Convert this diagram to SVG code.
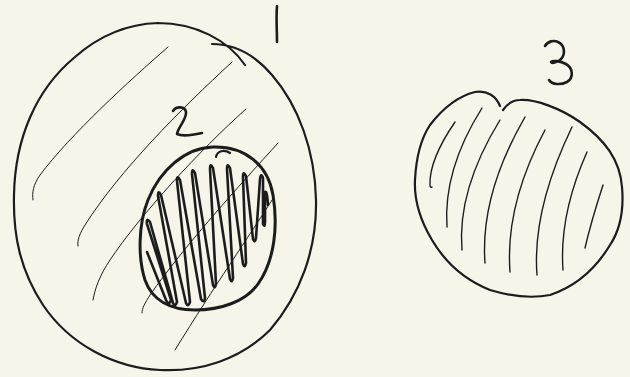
<svg xmlns="http://www.w3.org/2000/svg" width="630" height="377" viewBox="0 0 630 377">
<style>
.bg{fill:#f7f5ea}
.ink{fill:none;stroke:#1c1c1c;stroke-linecap:round;stroke-linejoin:round}
.outline{stroke-width:2.2}
.thick{stroke-width:3}
.hatch{stroke-width:1}
.hatch3{stroke-width:1.4}
.scribble{stroke-width:2.6}
.label{stroke-width:2.6}
</style>
<rect class="bg" x="0" y="0" width="630" height="377"/>
<g id="node1">
<path class="ink outline" d="M212,44 C235,44 255,55 272,75 C298,105 315,150 316,200 C317,250 300,295 270,330 C240,360 200,372 160,370 C115,368 70,345 43,305 C20,270 13,235 14,195 C15,140 35,90 75,57 C100,35 128,24 158,23 C195,23 228,40 245,65"/>
<path class="ink hatch" d="M168,47 C130,80 70,135 40,175 C33,185 32,193 33,200"/>
<path class="ink hatch" d="M232,62 C180,110 120,170 85,225 C80,233 77,240 78,246"/>
<path class="ink hatch" d="M246,109 C200,150 140,215 110,260 C100,275 95,288 93,300"/>
<path class="ink hatch" d="M278,143 C240,185 185,245 150,295 C145,303 142,308 142,313"/>
<path class="ink hatch" d="M272,200 C250,235 215,285 175,350"/>
<path class="ink label" d="M277,6 C276,18 277,30 277,42"/>
</g>
<g id="node2">
<path class="ink thick" d="M213,147 C245,146 268,165 273,195 C278,225 275,260 258,284 C245,302 220,310 195,310 C170,310 152,300 145,280 C138,258 138,225 148,200 C160,170 185,148 213,147 Z"/>
<path class="ink outline" d="M216,157 C217,151 224,149 230,153"/>
<path class="ink scribble" d="M147,252 L166,300 Q169,306 171,300 L147,224 Q146,217 150,222 L173,303 Q175,308 177,302 L158,196 Q158,189 161,195 L186,303 Q188,308 190,302 L177,181 Q177,174 180,180 L201,299 Q204,304 205,298 L192,174 Q192,167 195,173 L213,285 Q215,290 216,284 L210,169 Q210,162 213,168 L230,279 Q232,284 233,278 L227,169 Q227,162 230,168 L243,264 Q245,269 246,263 L243,177 Q243,170 246,176 L253,239 Q255,244 256,238 L260,179 Q261,172 263,178 L263,224 Q265,228 265,222 L265,192 Q267,190 268,205"/>
<path class="ink label" d="M173,111 C176,106 185,106 186,112 C187,119 178,127 177,134 C183,137 193,135 202,133"/>
</g>
<g id="node3">
<path class="ink outline" d="M503,110 C508,103 513,100 520,100 C535,99 560,108 580,122 C605,140 620,160 622,187 C624,210 620,230 610,245 C598,265 580,285 550,295 C530,299 510,296 490,290 C465,280 445,262 432,240 C420,220 414,200 415,180 C416,160 420,140 430,125 C440,112 455,97 475,92 C487,90 496,96 500,106"/>
<path class="ink hatch3" d="M455,122 Q429,160 430,185 Q430,188 432,187"/>
<path class="ink hatch3" d="M482,108 Q443,170 447,227"/>
<path class="ink hatch3" d="M500,120 Q457,190 462,250"/>
<path class="ink hatch3" d="M525,117 Q480,195 485,263"/>
<path class="ink hatch3" d="M545,130 Q505,205 510,272"/>
<path class="ink hatch3" d="M572,127 Q532,210 537,275"/>
<path class="ink hatch3" d="M587,152 Q559,215 563,270"/>
<path class="ink hatch3" d="M603,185 Q591,222 585,248"/>
<path class="ink label" d="M545,46 C548,41 554,40 558,42 C565,45 566,55 560,60 C557,62 552,64 551,62 C553,60 560,61 566,64 C573,68 574,78 567,82 C561,85 552,85 549,80"/>
</g>
</svg>
